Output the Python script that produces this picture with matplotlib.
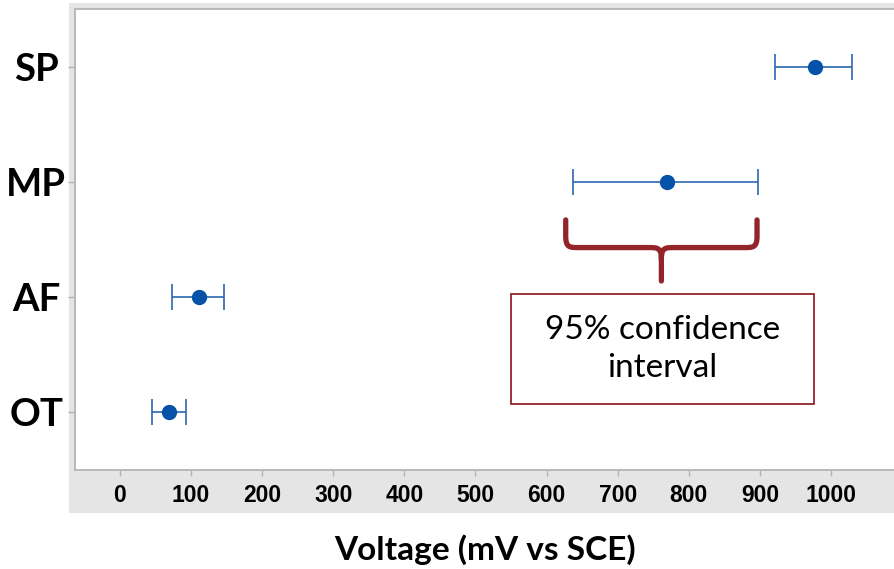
"""Interval plot of corrosion potential per surface treatment
"""

import numpy as np
import matplotlib
matplotlib.use('Agg')
import matplotlib.pyplot as plt
from matplotlib.patches import Rectangle, PathPatch
from matplotlib.path import Path

# categories from bottom to top
groups = ['OT', 'AF', 'MP', 'SP']
means = [69, 112, 770, 977]
ci_low = [45, 74, 637, 921]
ci_high = [93, 146, 897, 1030]
x_ticks = [0, 100, 200, 300, 400, 500, 600, 700, 800, 900, 1000]

BLUE = '#0552a8'
BAR_BLUE = '#2b67b4'
RED = '#92242a'
GRID_GRAY = '#b4b4b4'


def brace_path(x0, x1, y_top, y_mid, y_tip, rx, ry):
    """Curly brace opening upward, spanning x0..x1"""
    xc = (x0 + x1) / 2
    verts = [
        (x0, y_top), (x0, y_mid + ry),
        (x0, y_mid), (x0 + rx * 0.3, y_mid), (x0 + rx, y_mid),
        (xc - rx, y_mid),
        (xc - rx * 0.3, y_mid), (xc, y_mid), (xc, y_mid - ry),
        (xc, y_tip),
        (xc, y_mid - ry),
        (xc, y_mid), (xc + rx * 0.3, y_mid), (xc + rx, y_mid),
        (x1 - rx, y_mid),
        (x1 - rx * 0.3, y_mid), (x1, y_mid), (x1, y_mid + ry),
        (x1, y_top),
    ]
    codes = [Path.MOVETO, Path.LINETO,
             Path.CURVE4, Path.CURVE4, Path.CURVE4,
             Path.LINETO,
             Path.CURVE4, Path.CURVE4, Path.CURVE4,
             Path.LINETO,
             Path.MOVETO,
             Path.CURVE4, Path.CURVE4, Path.CURVE4,
             Path.LINETO,
             Path.CURVE4, Path.CURVE4, Path.CURVE4,
             Path.LINETO]
    return Path(verts, codes)


fig = plt.figure(figsize=(8.95, 5.69), dpi=100)

# gray frame around the plotting region
fig.patches.append(Rectangle((69 / 895, 1 - 513 / 569), 1, (513 - 3) / 569,
                             transform=fig.transFigure, facecolor='#e5e5e5',
                             edgecolor='none', zorder=-1))

ax = fig.add_axes([75 / 895, 1 - 470 / 569, 1 - 75 / 895, (470 - 9) / 569])
ax.set_zorder(1)
ax.set_facecolor('white')

y = np.arange(len(groups))
means_arr = np.array(means)
xerr = [means_arr - np.array(ci_low), np.array(ci_high) - means_arr]
ax.errorbar(means, y, xerr=xerr, fmt='none', ecolor=BAR_BLUE, elinewidth=1.2,
            capsize=9.5, capthick=1.2, zorder=2)
ax.plot(means, y, 'o', color=BLUE, markersize=10, zorder=3)

ax.set_xlim(-63, 1090)
ax.set_ylim(-0.5, 3.5)
ax.set_xticks(x_ticks)
ax.set_xticklabels([str(t) for t in x_ticks], fontsize=16.5, fontweight='bold',
                   family='Liberation Sans')
ax.set_yticks(y)
ax.set_yticklabels(groups, fontsize=27.5, fontweight='bold', family='Lato',
                   ha='center')
ax.tick_params(axis='x', length=4, width=1, color=GRID_GRAY, pad=6)
ax.tick_params(axis='y', length=5, width=1, color=GRID_GRAY, pad=23)

for side in ['left', 'top', 'bottom']:
    ax.spines[side].set_color(GRID_GRAY)
    ax.spines[side].set_linewidth(1.3)
ax.spines['right'].set_visible(False)

ax.set_xlabel('Voltage (mV vs SCE)', fontsize=24, fontweight='bold',
              family='Lato', labelpad=20)

# brace and label pointing out the interval of MP
mp = groups.index('MP')
brace = brace_path(ci_low[mp] - 10, ci_high[mp] - 1, mp - 0.33, mp - 0.57,
                   mp - 0.86, 18, 0.1)
ax.add_patch(PathPatch(brace, facecolor='none', edgecolor=RED, lw=3.8,
                       capstyle='round', joinstyle='round', zorder=4))
ax.add_patch(Rectangle((550, 0.07), 426, 0.96, facecolor='white',
                       edgecolor=RED, lw=1.3, zorder=4))
ax.text(763, 0.55, '95% confidence\ninterval', ha='center', va='center',
        fontsize=24, family='Lato', linespacing=1.35, zorder=5)

fig.savefig('out.png', dpi=100)
